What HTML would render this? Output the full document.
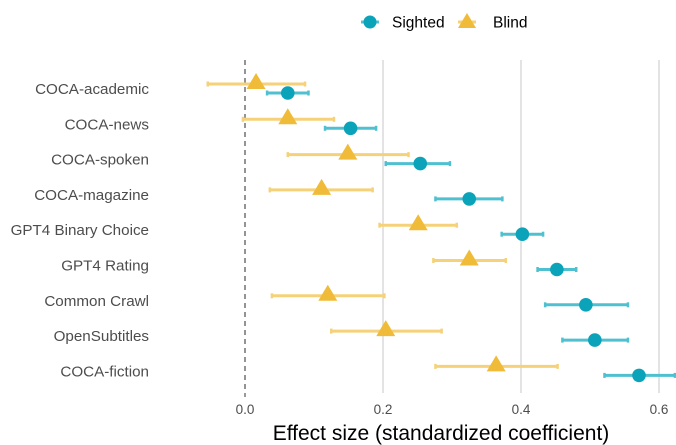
<!DOCTYPE html>
<html><head><meta charset="utf-8"><style>
html,body{margin:0;padding:0;background:#fff;}
svg{display:block;font-family:"Liberation Sans",sans-serif;}
</style></head><body>
<svg id="chart" width="676" height="445" viewBox="0 0 676 445">
<g id="grid"></g>
<g id="ylabels"></g>
<g id="xlabels"></g>
<g id="marks"></g>
<text x="441" y="440" text-anchor="middle" font-size="21" fill="#000">Effect size (standardized coefficient)</text>
<g>
<g>
<line x1="361" y1="22" x2="379" y2="22" stroke="#4fc0d0" stroke-width="3"/>
<circle cx="370" cy="22" r="6.5" fill="#0aa3b9"/>
<text x="392" y="27.5" font-size="15.5" fill="#000">Sighted</text>
</g>
<g>
<line x1="458" y1="22" x2="476" y2="22" stroke="#f5d27a" stroke-width="3"/>
<polygon points="467,13 476,28 458,28" fill="#f0bb38"/>
<text x="493" y="27.5" font-size="15.5" fill="#000">Blind</text>
</g>
</g>
</svg>
<script>
const categories=["COCA-academic","COCA-news","COCA-spoken","COCA-magazine","GPT4 Binary Choice","GPT4 Rating","Common Crawl","OpenSubtitles","COCA-fiction"];
const sightedEst=[0.062,0.153,0.254,0.325,0.402,0.452,0.494,0.507,0.571];
const sightedLo=[0.032,0.116,0.204,0.276,0.372,0.424,0.435,0.460,0.521];
const sightedHi=[0.092,0.190,0.297,0.373,0.432,0.480,0.555,0.555,0.623];
const blindEst=[0.016,0.062,0.149,0.111,0.251,0.325,0.120,0.204,0.364];
const blindLo=[-0.054,-0.003,0.062,0.036,0.195,0.273,0.039,0.125,0.276];
const blindHi=[0.087,0.129,0.237,0.185,0.307,0.378,0.202,0.285,0.453];
const xTicks=[0,0.2,0.4,0.6];
const xTickLabels=["0.0","0.2","0.4","0.6"];
const NS="http://www.w3.org/2000/svg";
const X=v=>245+v*690;
const Y=i=>88.5+i*35.3;
function mk(tag,attrs,parent){const e=document.createElementNS(NS,tag);for(const k in attrs)e.setAttribute(k,attrs[k]);parent.appendChild(e);return e;}
const grid=document.getElementById('grid'),yl=document.getElementById('ylabels'),xl=document.getElementById('xlabels'),marks=document.getElementById('marks');
xTicks.forEach((t,i)=>{
 if(t!==0){const g=mk('line',{x1:X(t),x2:X(t),y1:60,y2:393,stroke:'#dcdcdc','stroke-width':1.6},grid);
 
 }
 const tx=mk('text',{x:X(t),y:414,'text-anchor':'middle','font-size':13.5,fill:'#4d4d4d'},xl);tx.textContent=xTickLabels[i];
 
 
});
const z=mk('line',{x1:X(0),x2:X(0),y1:60,y2:393,stroke:'#7a7a7a','stroke-width':1.6,'stroke-dasharray':'5,4'},grid);


const zt=mk('line',{x1:X(0),x2:X(0),y1:393,y2:397,stroke:'#333','stroke-width':1},grid);


categories.forEach((c,i)=>{
 const t=mk('text',{x:149,y:Y(i)+5.5,'text-anchor':'end','font-size':15.2,fill:'#4d4d4d'},yl);t.textContent=c;
 
 
 const yb=Y(i)-4.5;
 const gb=mk('g',{},marks);
 
 
 mk('line',{x1:X(blindLo[i]),x2:X(blindHi[i]),y1:yb,y2:yb,stroke:'#f5d27a','stroke-width':3},gb);
 mk('line',{x1:X(blindLo[i]),x2:X(blindLo[i]),y1:yb-2.5,y2:yb+2.5,stroke:'#f5d27a','stroke-width':2.5},gb);
 mk('line',{x1:X(blindHi[i]),x2:X(blindHi[i]),y1:yb-2.5,y2:yb+2.5,stroke:'#f5d27a','stroke-width':2.5},gb);
 const bx=X(blindEst[i]);
 mk('polygon',{points:`${bx},${yb-11} ${bx+9.5},${yb+5} ${bx-9.5},${yb+5}`,fill:'#f0bb38'},gb);
 const ys=Y(i)+4.5;
 const gs=mk('g',{},marks);
 
 
 mk('line',{x1:X(sightedLo[i]),x2:X(sightedHi[i]),y1:ys,y2:ys,stroke:'#4fc0d0','stroke-width':3},gs);
 mk('line',{x1:X(sightedLo[i]),x2:X(sightedLo[i]),y1:ys-2.5,y2:ys+2.5,stroke:'#4fc0d0','stroke-width':2.5},gs);
 mk('line',{x1:X(sightedHi[i]),x2:X(sightedHi[i]),y1:ys-2.5,y2:ys+2.5,stroke:'#4fc0d0','stroke-width':2.5},gs);
 mk('circle',{cx:X(sightedEst[i]),cy:ys,r:6.8,fill:'#0aa3b9'},gs);
});
</script>
</body></html>
